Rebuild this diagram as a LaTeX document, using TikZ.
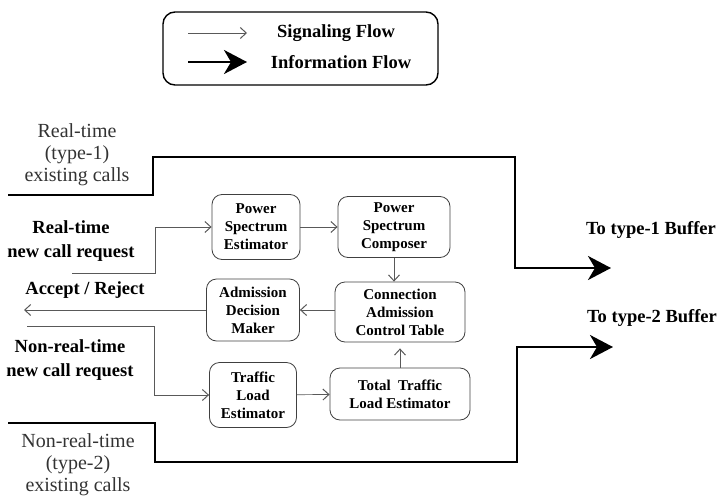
\documentclass[tikz,border=0pt]{standalone}
\usepackage{fontspec}
\setmainfont{Liberation Serif}
\usetikzlibrary{arrows.meta}

\begin{document}
\begin{tikzpicture}[x=1pt,y=-1pt,
    blk/.style={draw=black!75,line width=0.8pt,rounded corners=10pt,align=center,
      inner sep=2pt,font=\fontsize{15}{18}\selectfont\bfseries},
    sig/.style={draw=black!65,line width=0.7pt},
    sigarr/.style={sig,-{Straight Barb[length=6pt,width=11pt,line width=1pt]}},
    infoarr/.style={line width=2.6pt,-{Stealth[length=23pt,width=24pt,inset=7pt]}},
    lbl/.style={align=center,font=\fontsize{18.5}{23.5}\selectfont\bfseries},
    plainlbl/.style={align=center,text=black!80,font=\fontsize{20}{22}\selectfont}]
\useasboundingbox (0,0) rectangle (723,498);

% legend
\node[draw,line width=1.4pt,rounded corners=12pt,minimum width=275pt,
  minimum height=73pt] (legend) at (300.5,48.5) {};
\coordinate (sigA) at (188,33);
\coordinate (sigB) at (247,33);
\coordinate (infA) at (188,62);
\coordinate (infB) at (247,62);
\draw[sigarr] (sigA) -- (sigB);
\draw[infoarr] (infA) -- (infB);
\node[lbl] (sigtxt) at (336,33) {Signaling Flow};
\node[lbl] (inftxt) at (341,62) {Information Flow};

% blocks
\node[blk,minimum width=88pt,minimum height=65pt] (pse) at (256,227) {Power\\Spectrum\\Estimator};
\node[blk,minimum width=112pt,minimum height=61pt] (psc) at (394,227) {Power\\Spectrum\\Composer};
\node[blk,minimum width=93pt,minimum height=62pt] (adm) at (253,310) {Admission\\Decision\\Maker};
\node[blk,minimum width=130pt,minimum height=60pt] (cact) at (400,312) {Connection\\Admission\\Control Table};
\node[blk,minimum width=87pt,minimum height=65pt] (tle) at (253,395) {Traffic\\Load\\Estimator};
\node[blk,minimum width=140pt,minimum height=52pt] (ttle) at (400,394) {Total~~Traffic\\Load Estimator};

\draw[sigarr] (pse) -- (psc);
\draw[sigarr] (psc.south) -- (psc.south |- cact.north);
\draw[sigarr] (cact.west |- adm.east) -- (adm.east);
\draw[sigarr] (tle) -- (ttle);
\draw[sigarr,shorten >=6pt] (ttle.north -| cact.south) -- (cact.south);

% labels
\node[plainlbl] (rtexist) at (77,155) {Real-time\\(type-1)\\existing calls};
\node[lbl] (rtreq) at (71,241) {Real-time\\new call request};
\node[lbl] (accrej) at (85,290) {Accept / Reject};
\node[lbl] (nrtreq) at (70,360) {Non-real-time\\new call request};
\node[plainlbl] (nrtexist) at (78,465) {Non-real-time\\(type-2)\\existing calls};
\node[lbl] (buf1) at (651,230) {To type-1 Buffer};
\node[lbl] (buf2) at (652,318) {To type-2 Buffer};

% signaling
\coordinate (rtin) at (72,273);
\coordinate (accout) at (24,310);
\coordinate (nrtin) at (27,326);
\draw[sigarr] (rtin) -- (155,273) -- (155,227) -- (pse.west);
\draw[sigarr] (adm.west) -- (accout);
\draw[sigarr] (nrtin) -- (154,326) -- (154,395) -- (tle.west);

% information
\coordinate (rtflow) at (8,195);
\coordinate (buf1tip) at (611,268);
\coordinate (nrtflow) at (8,423);
\coordinate (buf2tip) at (613,347);
\draw[infoarr] (rtflow) -- (153,195) -- (153,157) -- (515,157) -- (515,268) -- (buf1tip);
\draw[infoarr] (nrtflow) -- (155,423) -- (155,462) -- (517,462) -- (517,347) -- (buf2tip);
\end{tikzpicture}
\end{document}
